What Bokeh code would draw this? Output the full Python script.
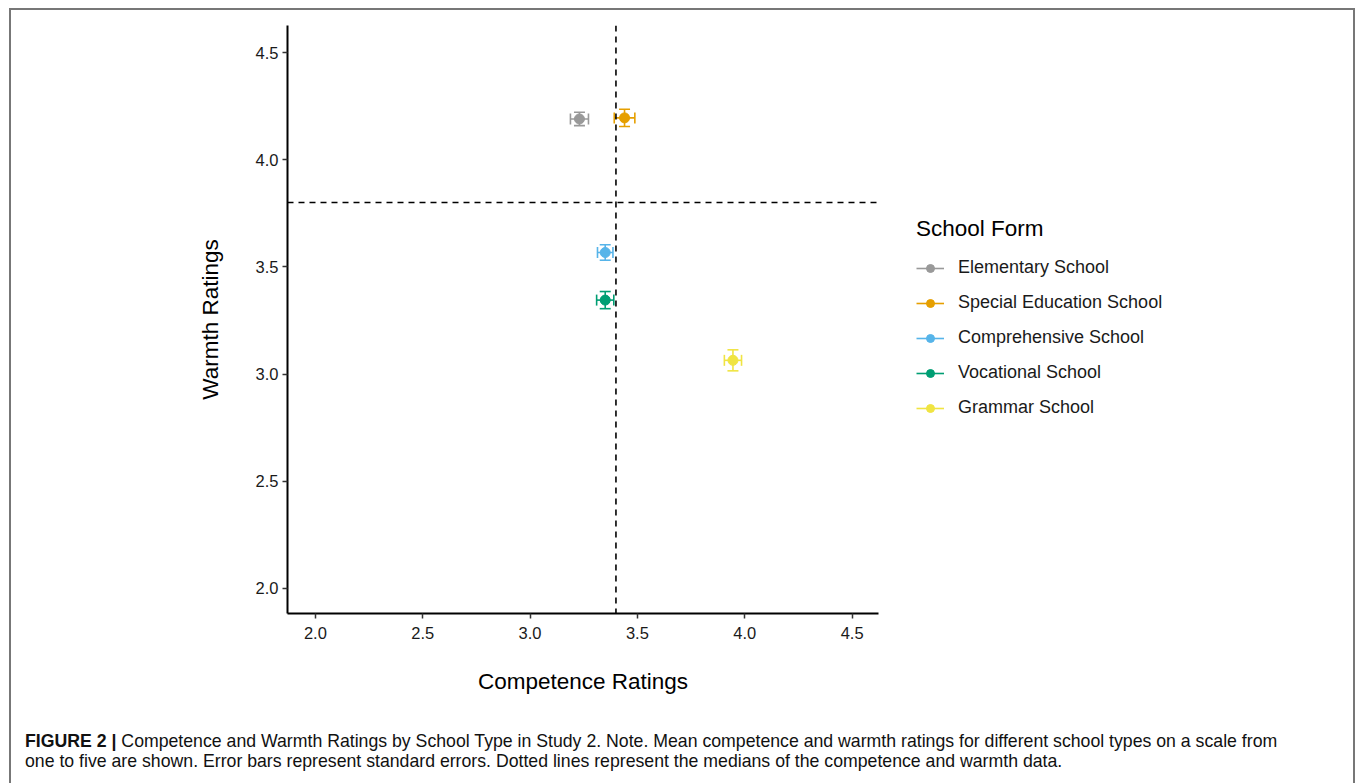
from bokeh.plotting import figure
from bokeh.layouts import column
from bokeh.models import (Span, Whisker, ColumnDataSource, Legend, LegendItem, Div,
                          FixedTicker, PrintfTickFormatter, TeeHead, Range1d)
from bokeh.embed import file_html
from bokeh.resources import INLINE

schools = ["Elementary School", "Special Education School", "Comprehensive School",
           "Vocational School", "Grammar School"]
competence = [3.23, 3.44, 3.35, 3.35, 3.945]
warmth = [4.19, 4.195, 3.567, 3.345, 3.064]
competence_se = [0.042, 0.048, 0.036, 0.040, 0.040]
warmth_se = [0.031, 0.040, 0.036, 0.040, 0.049]
colors = ["#999999", "#E69F00", "#56B4E9", "#009E73", "#F0E442"]
median_competence = 3.40
median_warmth = 3.80
ticks = [2.0, 2.5, 3.0, 3.5, 4.0, 4.5]
caption_bold = "FIGURE 2 |"
caption_line1 = ("Competence and Warmth Ratings by School Type in Study 2. Note. Mean competence "
                 "and warmth ratings for different school types on a scale from")
caption_line2 = ("one to five are shown. Error bars represent standard errors. Dotted lines "
                 "represent the medians of the competence and warmth data.")

FONT = "Liberation Sans"
W = 1355
H1 = 700
H2 = 83

p = figure(frame_width=591, frame_height=588, output_backend="svg", toolbar_location=None,
           x_range=Range1d(1.870, 4.623), y_range=Range1d(1.883, 4.626),
           min_border_left=287, min_border_right=W - 287 - 591,
           min_border_top=25, min_border_bottom=H1 - 25 - 588)
p.outline_line_color = None
p.grid.grid_line_color = None
p.background_fill_color = "white"
p.border_fill_alpha = 0

for ax in (p.xaxis, p.yaxis):
    ax.ticker = FixedTicker(ticks=ticks)
    ax.formatter = PrintfTickFormatter(format="%.1f")
    ax.axis_line_width = 2
    ax.axis_line_color = "black"
    ax.major_tick_line_color = "#333333"
    ax.major_tick_line_width = 1.5
    ax.major_tick_out = 5
    ax.major_tick_in = 0
    ax.minor_tick_line_color = None
    ax.major_label_text_font = FONT
    ax.major_label_text_font_size = "16.5px"
    ax.major_label_text_color = "#1a1a1a"
    ax.axis_label_text_font = FONT
    ax.axis_label_text_font_size = "22.5px"
    ax.axis_label_text_font_style = "normal"
    ax.axis_label_text_color = "black"
p.xaxis.axis_label = "Competence Ratings"
p.yaxis.axis_label = "Warmth Ratings"
p.xaxis.major_label_standoff = 8
p.yaxis.major_label_standoff = 4
p.xaxis.axis_label_standoff = 27
p.yaxis.axis_label_standoff = 30

p.add_layout(Span(location=median_competence, dimension="height", line_color="black",
                  line_width=1.6, line_dash="6 5"))
p.add_layout(Span(location=median_warmth, dimension="width", line_color="black",
                  line_width=1.6, line_dash="6 5"))

items = []
for name, cx, cy, sx, sy, col in zip(schools, competence, warmth, competence_se, warmth_se, colors):
    src = ColumnDataSource(dict(x=[cx], y=[cy], xl=[cx - sx], xu=[cx + sx],
                                yl=[cy - sy], yu=[cy + sy]))
    p.add_layout(Whisker(source=src, base="x", lower="yl", upper="yu", dimension="height",
                         line_color=col, line_width=1.6,
                         lower_head=TeeHead(size=11, line_color=col, line_width=1.6),
                         upper_head=TeeHead(size=11, line_color=col, line_width=1.6)))
    p.add_layout(Whisker(source=src, base="y", lower="xl", upper="xu", dimension="width",
                         line_color=col, line_width=1.6,
                         lower_head=TeeHead(size=11, line_color=col, line_width=1.6),
                         upper_head=TeeHead(size=11, line_color=col, line_width=1.6)))
    lr = p.line(x="x", y="y", source=src, line_color=col, line_width=1.6)
    sr = p.scatter(x="x", y="y", source=src, size=10, fill_color=col, line_color=col)
    items.append(LegendItem(label=name, renderers=[lr, sr]))

legend = Legend(items=items, location=(38, 195), title="School Form",
                title_text_font=FONT, title_text_font_size="22.5px", title_text_color="black",
                title_text_font_style="normal", title_standoff=15,
                label_text_font=FONT, label_text_font_size="18px", label_text_color="#1a1a1a",
                glyph_width=28, glyph_height=20, label_height=20, spacing=14,
                label_standoff=14, padding=0, margin=0,
                border_line_color=None, background_fill_alpha=0)
p.add_layout(legend, "right")

caption_html = ("<b>" + caption_bold + "</b> " + caption_line1 + "<br>" + caption_line2)
cap = Div(text=caption_html, width=W, height=H2,
          styles={"font-family": FONT, "font-size": "17.7px", "line-height": "20px",
                  "color": "#111111", "padding": "26px 0 0 20px", "box-sizing": "border-box",
                  "white-space": "nowrap"})

frame_bg = ("linear-gradient(#777,#777) 9px 8px / 2px 100% no-repeat, "
            "linear-gradient(#777,#777) 9px 8px / 1346px 2px no-repeat, "
            "linear-gradient(#777,#777) 1353px 8px / 2px 100% no-repeat, white")
layout = column(p, cap, spacing=0, styles={"background": frame_bg})

open("out.html", "w").write(file_html(layout, INLINE))
